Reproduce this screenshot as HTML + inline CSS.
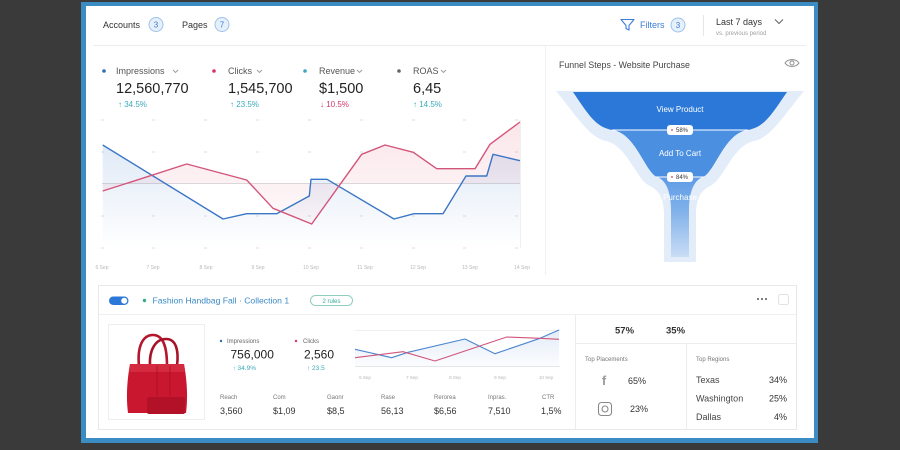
<!DOCTYPE html>
<html>
<head>
<meta charset="utf-8">
<style>
html,body{margin:0;padding:0;background:#3a3a3a;}
body{width:900px;height:450px;overflow:hidden;}
svg{display:block;}
text{font-family:"Liberation Sans",Arial,sans-serif;}
</style>
</head>
<body>
<svg width="900" height="450" viewBox="0 0 900 450" xmlns="http://www.w3.org/2000/svg">
<defs>
  <linearGradient id="gBlue" x1="0" y1="0" x2="0" y2="1">
    <stop offset="0" stop-color="#3a78c9" stop-opacity="0.16"/>
    <stop offset="1" stop-color="#3a78c9" stop-opacity="0"/>
  </linearGradient>
  <linearGradient id="gRed" x1="0" y1="0" x2="0" y2="1">
    <stop offset="0" stop-color="#e0607f" stop-opacity="0.16"/>
    <stop offset="1" stop-color="#e0607f" stop-opacity="0.04"/>
  </linearGradient>
  <linearGradient id="gSeg3" x1="0" y1="0" x2="0" y2="1">
    <stop offset="0" stop-color="#5f9be5"/>
    <stop offset="0.4" stop-color="#7eb0ea"/>
    <stop offset="1" stop-color="#c9ddf5"/>
  </linearGradient>
  <linearGradient id="gMini" x1="0" y1="0" x2="0" y2="1">
    <stop offset="0" stop-color="#3a78c9" stop-opacity="0.14"/>
    <stop offset="1" stop-color="#3a78c9" stop-opacity="0.02"/>
  </linearGradient>
</defs>

<!-- background & card -->
<rect x="0" y="0" width="900" height="450" fill="#3a3a3a"/>
<rect x="81" y="2" width="737" height="441" fill="#3b8cc3"/>
<rect x="86" y="6" width="728" height="432" fill="#ffffff"/>

<!-- ===== Header ===== -->
<text x="103" y="28" font-size="9" fill="#333">Accounts</text>
<circle cx="156" cy="24.5" r="7" fill="#e6f0fb" stroke="#9dc2ea" stroke-width="1"/>
<text x="156" y="27.5" font-size="8" fill="#3b7dd8" text-anchor="middle">3</text>
<text x="182" y="28" font-size="9" fill="#333">Pages</text>
<circle cx="222" cy="24.5" r="7" fill="#e6f0fb" stroke="#9dc2ea" stroke-width="1"/>
<text x="222" y="27.5" font-size="8" fill="#3b7dd8" text-anchor="middle">7</text>

<path d="M621,19.5 L634,19.5 L629,25.5 L629,30 L626,28.5 L626,25.5 Z" fill="none" stroke="#3b7dd8" stroke-width="1.1" stroke-linejoin="round"/>
<text x="640" y="28" font-size="9" fill="#3b7dd8">Filters</text>
<circle cx="678" cy="25" r="7" fill="#e6f0fb" stroke="#9dc2ea" stroke-width="1"/>
<text x="678" y="28" font-size="8" fill="#3b7dd8" text-anchor="middle">3</text>
<line x1="703.5" y1="15" x2="703.5" y2="36" stroke="#e6e6e6" stroke-width="1"/>
<text x="716" y="25" font-size="9" fill="#333">Last 7 days</text>
<path d="M775,19.5 L779,23.5 L783,19.5" fill="none" stroke="#666" stroke-width="1.1"/>
<text x="716" y="35" font-size="6" fill="#a0a0a0">vs. previous period</text>

<line x1="93" y1="45.5" x2="806" y2="45.5" stroke="#ececec" stroke-width="1"/>
<line x1="545.5" y1="46" x2="545.5" y2="275" stroke="#f0f0f0" stroke-width="1"/>

<!-- ===== Metrics ===== -->
<circle cx="104" cy="71" r="1.8" fill="#2c6db5"/>
<text x="116" y="74" font-size="9" fill="#555">Impressions</text>
<path d="M173,70 L175.5,72.5 L178,70" fill="none" stroke="#999" stroke-width="0.9"/>
<text x="116" y="93" font-size="14.5" fill="#222">12,560,770</text>
<text x="118" y="107" font-size="8" fill="#3aaabb">↑ 34.5%</text>

<circle cx="214" cy="71" r="1.8" fill="#d6336c"/>
<text x="228" y="74" font-size="9" fill="#555">Clicks</text>
<path d="M257,70 L259.5,72.5 L262,70" fill="none" stroke="#999" stroke-width="0.9"/>
<text x="228" y="93" font-size="14.5" fill="#222">1,545,700</text>
<text x="230" y="107" font-size="8" fill="#3aaabb">↑ 23.5%</text>

<circle cx="305" cy="71" r="1.8" fill="#3aaabb"/>
<text x="319" y="74" font-size="9" fill="#555">Revenue</text>
<path d="M357,70 L359.5,72.5 L362,70" fill="none" stroke="#999" stroke-width="0.9"/>
<text x="319" y="93" font-size="14.5" fill="#222">$1,500</text>
<text x="320" y="107" font-size="8" fill="#d2386c">↓ 10.5%</text>

<circle cx="399" cy="71" r="1.8" fill="#666"/>
<text x="413" y="74" font-size="9" fill="#555">ROAS</text>
<path d="M441,70 L443.5,72.5 L446,70" fill="none" stroke="#999" stroke-width="0.9"/>
<text x="413" y="93" font-size="14.5" fill="#222">6,45</text>
<text x="413" y="107" font-size="8" fill="#3aaabb">↑ 14.5%</text>

<!-- ===== Main chart ===== -->
<g stroke="#d4d4d4" stroke-width="0.8">
  <g id="tickrow">
    <line x1="101" y1="120" x2="104" y2="120"/><line x1="152" y1="120" x2="155" y2="120"/><line x1="204" y1="120" x2="207" y2="120"/><line x1="256" y1="120" x2="259" y2="120"/><line x1="308" y1="120" x2="311" y2="120"/><line x1="360" y1="120" x2="363" y2="120"/><line x1="412" y1="120" x2="415" y2="120"/><line x1="463" y1="120" x2="466" y2="120"/><line x1="515" y1="120" x2="518" y2="120"/>
  </g>
  <use href="#tickrow" y="32"/>
  <use href="#tickrow" y="96"/>
  <use href="#tickrow" y="128"/>
</g>
<line x1="102" y1="183.5" x2="520" y2="183.5" stroke="#dcdcdc" stroke-width="1"/>
<line x1="520.5" y1="120" x2="520.5" y2="248" stroke="#f0f0f0" stroke-width="1"/>

<polygon fill="url(#gBlue)" points="102.7,145 223,219 246.7,213.7 276.7,213.7 309.3,196 311,179.3 327,179.3 394,219 414,213.7 443,213.7 466,176 486.7,176 493,154.3 520,160.7 520,248 102.7,248"/>
<polygon fill="url(#gRed)" points="102.7,191 130,182.3 186.7,164 246.7,180 273,208.3 311.7,224 361.7,154.3 385,145 413.3,152.3 436.7,168.7 475,168.7 490,144.3 520,122 520,183.5 102.7,183.5"/>
<polyline fill="none" stroke="#3b76c6" stroke-width="1.4" stroke-linejoin="round" points="102.7,145 223,219 246.7,213.7 276.7,213.7 309.3,196 311,179.3 327,179.3 394,219 414,213.7 443,213.7 466,176 486.7,176 493,154.3 520,160.7"/>
<polyline fill="none" stroke="#d2557a" stroke-width="1.4" stroke-linejoin="round" points="102.7,191 130,182.3 186.7,164 246.7,180 273,208.3 311.7,224 361.7,154.3 385,145 413.3,152.3 436.7,168.7 475,168.7 490,144.3 520,122"/>

<g font-size="5" fill="#b8b8b8" text-anchor="middle">
  <text x="102" y="269">6 Sep</text>
  <text x="153" y="269">7 Sep</text>
  <text x="206" y="269">8 Sep</text>
  <text x="258" y="269">9 Sep</text>
  <text x="311" y="269">10 Sep</text>
  <text x="365" y="269">11 Sep</text>
  <text x="418" y="269">12 Sep</text>
  <text x="470" y="269">13 Sep</text>
  <text x="522" y="269">14 Sep</text>
</g>

<!-- ===== Funnel ===== -->
<text x="559" y="68" font-size="8.8" fill="#444">Funnel Steps - Website Purchase</text>
<g fill="none" stroke="#888" stroke-width="0.9">
  <path d="M785,63 C788,58.5 796,58.5 799,63 C796,67.5 788,67.5 785,63 Z"/>
  <circle cx="792" cy="63" r="2"/>
</g>

<path d="M556,91 C578,118 590,138 606,141 C628,146 636,180 650,186 C660,191 664,200 664,215 L664,262 L696,262 L696,215 C696,200 700,191 710,186 C724,180 732,146 754,141 C770,138 782,118 804,91 Z" fill="#e3edf9"/>
<path d="M573,92 C588,114 596,128 613,130 L747,130 C764,128 772,114 787,92 Z" fill="#2b78d8"/>
<path d="M613,130 C636,134 645,172 657,177 L703,177 C715,172 724,134 747,130 Z" fill="#4b8fe0"/>
<path d="M657,177 C666,180 671,192 671,210 L671,257 L689,257 L689,210 C689,192 694,180 703,177 Z" fill="url(#gSeg3)"/>
<line x1="612" y1="130" x2="748" y2="130" stroke="#fff" stroke-width="1"/>
<line x1="656" y1="177" x2="704" y2="177" stroke="#fff" stroke-width="1"/>

<text x="680" y="112" font-size="8" fill="#ffffff" text-anchor="middle">View Product</text>
<text x="680" y="156" font-size="8" fill="#ffffff" text-anchor="middle">Add To Cart</text>
<text x="680" y="200" font-size="8" fill="#ffffff" text-anchor="middle">Purchase</text>

<rect x="667" y="125" width="26" height="10" rx="3" fill="#fff"/>
<circle cx="672" cy="130" r="0.9" fill="#d2386c"/>
<text x="682" y="132.2" font-size="6" fill="#333" text-anchor="middle">58%</text>
<rect x="667" y="172" width="26" height="10" rx="3" fill="#fff"/>
<circle cx="672" cy="177" r="0.9" fill="#d2386c"/>
<text x="682" y="179.2" font-size="6" fill="#333" text-anchor="middle">84%</text>

<!-- ===== Bottom card ===== -->
<rect x="98.5" y="285.5" width="698" height="144" fill="#fff" stroke="#e8e8e8" stroke-width="1"/>
<line x1="99" y1="314.5" x2="796" y2="314.5" stroke="#efefef" stroke-width="1"/>
<line x1="575.5" y1="315" x2="575.5" y2="429" stroke="#ececec" stroke-width="1"/>
<line x1="576" y1="343.5" x2="796" y2="343.5" stroke="#ececec" stroke-width="1"/>
<line x1="686.5" y1="344" x2="686.5" y2="429" stroke="#ececec" stroke-width="1"/>

<!-- toggle & title -->
<rect x="109" y="296.5" width="19.5" height="8.5" rx="4.25" fill="#2b78d8"/>
<circle cx="124.2" cy="300.75" r="3" fill="#fff"/>
<circle cx="144.5" cy="300.5" r="1.7" fill="#3aaa8c"/>
<text x="152.5" y="303.5" font-size="8.6" fill="#3b8ac6">Fashion Handbag Fall · Collection 1</text>
<rect x="310.5" y="295.5" width="42" height="10" rx="5" fill="#fff" stroke="#8fcfbf" stroke-width="1"/>
<text x="331.5" y="302.8" font-size="6" fill="#3aaa9a" text-anchor="middle">2 rules</text>
<g fill="#555"><circle cx="758" cy="299" r="1"/><circle cx="762" cy="299" r="1"/><circle cx="766" cy="299" r="1"/></g>
<rect x="778.5" y="294.5" width="10" height="10" rx="2" fill="#fff" stroke="#e2e2e2" stroke-width="1"/>

<!-- product image -->
<rect x="108.5" y="324.5" width="96" height="95" fill="#fff" stroke="#eeeeee" stroke-width="1"/>
<path d="M139,366 C137,346 143,335 153,335 C163,335 167,346 167,366" fill="none" stroke="#b3162d" stroke-width="2.6"/>
<path d="M150,366 C149,349 156,339 166,339 C176,339 179,350 177,366" fill="none" stroke="#a81229" stroke-width="2.6"/>
<path d="M130,364 L184,364 C187,380 188,398 186,413 L128,413 C126,398 127,380 130,364 Z" fill="#c8172f"/>
<path d="M130,364 L184,364 L185,372 L129,372 Z" fill="#d42a40"/>
<rect x="147" y="397" width="38" height="17" rx="2" fill="#b31128"/>
<line x1="157" y1="366" x2="157" y2="396" stroke="#a70f25" stroke-width="0.8"/>
<line x1="170" y1="366" x2="170" y2="396" stroke="#a70f25" stroke-width="0.8"/>

<!-- mini metrics -->
<circle cx="221" cy="341" r="1.2" fill="#2c6db5"/>
<text x="227" y="343" font-size="6" fill="#666">Impressions</text>
<text x="230.5" y="358.5" font-size="12" fill="#222">756,000</text>
<text x="232.5" y="370" font-size="6.5" fill="#3aaabb">↑ 34.9%</text>

<circle cx="296" cy="341" r="1.2" fill="#d6336c"/>
<text x="303" y="343" font-size="6" fill="#666">Clicks</text>
<text x="304" y="358.5" font-size="12" fill="#222">2,560</text>
<text x="307" y="370" font-size="6.5" fill="#3aaabb">↑ 23.5</text>

<!-- mini chart -->
<line x1="355" y1="330.5" x2="560" y2="330.5" stroke="#f0f0f0" stroke-width="1"/>
<line x1="355" y1="366.5" x2="560" y2="366.5" stroke="#e6e6e6" stroke-width="1"/>
<polygon fill="url(#gMini)" points="355,349.3 391.7,357.7 408,352.3 465,339 495,353.7 540,338.3 559,330 559,366.5 355,366.5"/>
<polyline fill="none" stroke="#4c86cf" stroke-width="1.1" stroke-linejoin="round" points="355,349.3 391.7,357.7 408,352.3 465,339 495,353.7 540,338.3 559,330"/>
<polyline fill="none" stroke="#d2557a" stroke-width="1.1" stroke-linejoin="round" points="355,357.7 403,351.7 435,361 506.7,337 540,338.3 559,339.3"/>
<g font-size="4.5" fill="#b5b5b5" text-anchor="middle">
  <text x="365" y="379">6 Sep</text>
  <text x="412" y="379">7 Sep</text>
  <text x="455" y="379">8 Sep</text>
  <text x="500" y="379">9 Sep</text>
  <text x="546" y="379">10 Sep</text>
</g>

<!-- stats row -->
<g font-size="6" fill="#777">
  <text x="220" y="399">Reach</text>
  <text x="273" y="399">Com</text>
  <text x="327" y="399">Gaonr</text>
  <text x="381" y="399">Rase</text>
  <text x="434" y="399">Rerorea</text>
  <text x="488" y="399">Inpras.</text>
  <text x="542" y="399">CTR</text>
</g>
<g font-size="9" fill="#333">
  <text x="220" y="414">3,560</text>
  <text x="273" y="414">$1,09</text>
  <text x="327" y="414">$8,5</text>
  <text x="381" y="414">56,13</text>
  <text x="434" y="414">$6,56</text>
  <text x="488" y="414">7,510</text>
  <text x="541" y="414">1,5%</text>
</g>

<!-- right blocks -->
<text x="615" y="333.5" font-size="9.5" font-weight="bold" fill="#333">57%</text>
<text x="666" y="333.5" font-size="9.5" font-weight="bold" fill="#333">35%</text>

<text x="585" y="361" font-size="6" fill="#777">Top Placements</text>
<text x="604" y="385" font-size="13" font-weight="bold" fill="#999" text-anchor="middle">f</text>
<text x="628" y="384" font-size="9" fill="#333">65%</text>
<rect x="598.5" y="402.5" width="13" height="13" rx="3" fill="none" stroke="#888" stroke-width="1.1"/>
<circle cx="605" cy="409" r="3" fill="none" stroke="#888" stroke-width="1.1"/>
<text x="630" y="412" font-size="9" fill="#333">23%</text>

<text x="696" y="361" font-size="6" fill="#777">Top Regions</text>
<text x="696" y="383" font-size="9" fill="#444">Texas</text>
<text x="787" y="383" font-size="9" fill="#333" text-anchor="end">34%</text>
<text x="696" y="401.5" font-size="9" fill="#444">Washington</text>
<text x="787" y="401.5" font-size="9" fill="#333" text-anchor="end">25%</text>
<text x="696" y="420" font-size="9" fill="#444">Dallas</text>
<text x="787" y="420" font-size="9" fill="#333" text-anchor="end">4%</text>
</svg>
</body>
</html>
